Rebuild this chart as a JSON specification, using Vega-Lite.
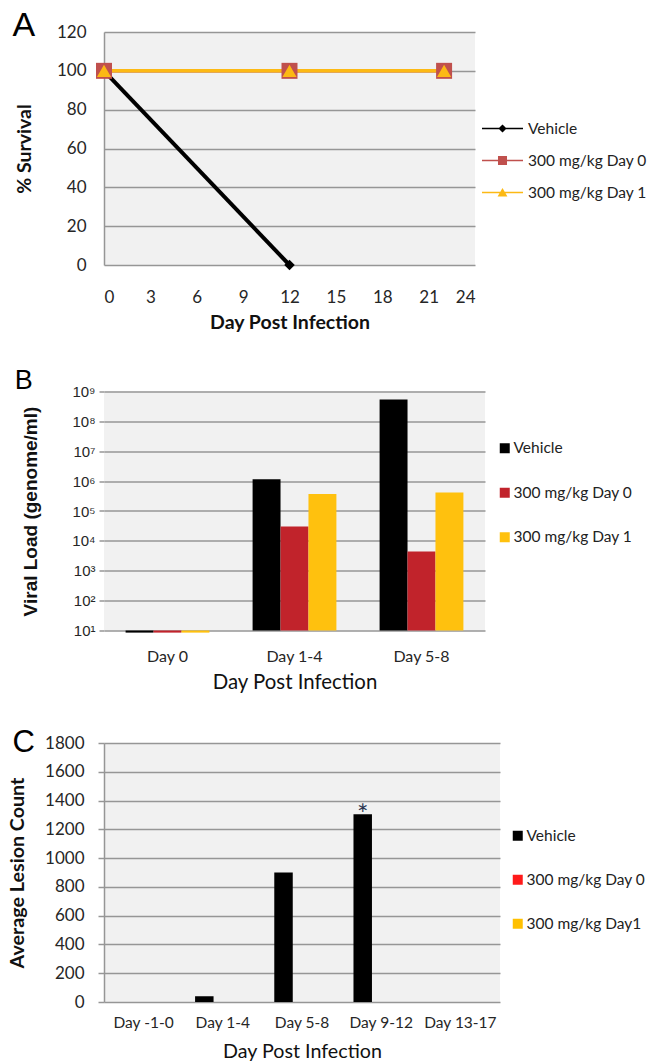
{
  "$schema": "https://vega.github.io/schema/vega-lite/v6.json",
  "padding": {"left": 7, "top": 9, "right": 0, "bottom": 0},
  "background": "white",
  "config": {
    "view": {"fill": "#f1f1f1", "stroke": null},
    "axis": {"labelFont": "Lato", "labelColor": "#262626", "titleFont": "Lato", "titleColor": "#111111", "gridColor": "#969696", "gridWidth": 1.5, "domainColor": "#969696", "domainWidth": 1.5, "tickColor": "#969696", "tickWidth": 1.5},
    "legend": {"labelFont": "Lato", "labelFontSize": 15.5, "labelColor": "#222222", "padding": 0},
    "title": {"font": "Liberation Sans", "fontWeight": "normal", "anchor": "start", "frame": "bounds", "color": "#000000"},
    "concat": {"spacing": 34.5}
  },
  "resolve": {"scale": {"color": "independent", "shape": "independent", "x": "independent", "y": "independent", "xOffset": "independent"}},
  "vconcat": [
    {
      "title": {"text": "A", "fontSize": 34, "offset": -20, "dx": -2},
      "width": 371,
      "height": 233,
      "data": {"values": [
        {"series": "Vehicle", "day": 0, "survival": 100},
        {"series": "Vehicle", "day": 12, "survival": 0},
        {"series": "300 mg/kg Day 0", "day": 0, "survival": 100},
        {"series": "300 mg/kg Day 0", "day": 12, "survival": 100},
        {"series": "300 mg/kg Day 0", "day": 22, "survival": 100},
        {"series": "300 mg/kg Day 1", "day": 0, "survival": 100},
        {"series": "300 mg/kg Day 1", "day": 12, "survival": 100},
        {"series": "300 mg/kg Day 1", "day": 22, "survival": 100}
      ]},
      "encoding": {
        "x": {"field": "day", "type": "quantitative", "scale": {"domain": [0, 24], "nice": false},
          "axis": {"values": [0, 3, 6, 9, 12, 15, 18, 21, 24], "grid": false, "domain": false, "ticks": false, "labelFontSize": 17, "labelPadding": 24, "title": "Day Post Infection", "titleFontSize": 19.5, "titleFontWeight": "bold", "titlePadding": 8}},
        "y": {"field": "survival", "type": "quantitative", "scale": {"domain": [0, 120], "nice": false},
          "axis": {"values": [0, 20, 40, 60, 80, 100, 120], "ticks": false, "domain": true, "labelFontSize": 17, "labelPadding": 18, "title": "% Survival", "titleFontSize": 19.5, "titleFontWeight": "bold", "titlePadding": 22}}
      },
      "layer": [
        {"transform": [{"filter": "datum.series === 'Vehicle'"}], "mark": {"type": "line", "color": "#000000", "strokeWidth": 4}, "encoding": {}},
        {"transform": [{"filter": "datum.series === '300 mg/kg Day 0'"}], "mark": {"type": "line", "color": "#c0504d", "strokeWidth": 3.5}, "encoding": {}},
        {"transform": [{"filter": "datum.series === '300 mg/kg Day 1'"}], "mark": {"type": "line", "color": "#fcb914", "strokeWidth": 3.5}, "encoding": {}},
        {"transform": [{"filter": "datum.series === 'Vehicle'"}], "mark": {"type": "point", "shape": "diamond", "size": 110, "filled": true, "color": "#000000", "opacity": 1}},
        {"transform": [{"filter": "datum.series === '300 mg/kg Day 0'"}], "mark": {"type": "point", "shape": "square", "size": 256, "filled": true, "color": "#c0504d", "opacity": 1}},
        {"transform": [{"filter": "datum.series === '300 mg/kg Day 1'"}], "mark": {"type": "point", "shape": "triangle-up", "size": 200, "filled": true, "color": "#fcb914", "opacity": 1}},
        {"transform": [{"filter": "false"}],
          "mark": {"type": "point", "filled": true, "opacity": 1},
          "encoding": {
            "color": {"field": "series", "type": "nominal",
              "scale": {"domain": ["Vehicle", "300 mg/kg Day 0", "300 mg/kg Day 1"], "range": ["#000000", "#c0504d", "#fcb914"]},
              "legend": {"title": null, "orient": "none", "legendX": 378, "legendY": 76, "symbolSize": 1681, "symbolOpacity": 1, "symbolStrokeWidth": 0, "rowPadding": 3, "labelOffset": 5}},
            "shape": {"field": "series", "type": "nominal",
              "scale": {"domain": ["Vehicle", "300 mg/kg Day 0", "300 mg/kg Day 1"], "range": ["M-1,-0.04H1V0.04H-1ZM0,-0.2L0.2,0L0,0.2L-0.2,0Z", "M-1,-0.04H1V0.04H-1ZM-0.22,-0.22H0.22V0.22H-0.22Z", "M-1,-0.04H1V0.04H-1ZM0,-0.22L0.24,0.2H-0.24Z"]}}
          }}
      ]
    },
    {
      "title": {"text": "B", "fontSize": 27, "offset": -10, "dx": -7},
      "width": 381,
      "height": 239,
      "data": {"values": [
        {"day": "Day 0", "group": "Vehicle", "load": 8.5},
        {"day": "Day 0", "group": "300 mg/kg Day 0", "load": 8.5},
        {"day": "Day 0", "group": "300 mg/kg Day 1", "load": 8.5},
        {"day": "Day 1-4", "group": "Vehicle", "load": 1150000},
        {"day": "Day 1-4", "group": "300 mg/kg Day 0", "load": 30000},
        {"day": "Day 1-4", "group": "300 mg/kg Day 1", "load": 370000},
        {"day": "Day 5-8", "group": "Vehicle", "load": 540000000},
        {"day": "Day 5-8", "group": "300 mg/kg Day 0", "load": 4400},
        {"day": "Day 5-8", "group": "300 mg/kg Day 1", "load": 420000}
      ]},
      "mark": {"type": "bar"},
      "encoding": {
        "x": {"field": "day", "type": "nominal", "sort": ["Day 0", "Day 1-4", "Day 5-8"], "scale": {"paddingInner": 0.34, "paddingOuter": 0.17},
          "axis": {"labelAngle": 0, "ticks": false, "domain": false, "labelFontSize": 16, "labelPadding": 18, "title": "Day Post Infection", "titleFontSize": 20.4, "titleFontWeight": "normal", "titlePadding": 7.5}},
        "xOffset": {"field": "group", "type": "nominal", "sort": ["Vehicle", "300 mg/kg Day 0", "300 mg/kg Day 1"], "scale": {"paddingInner": 0, "paddingOuter": 0}},
        "y": {"field": "load", "type": "quantitative", "scale": {"type": "log", "domain": [10, 1000000000], "nice": false},
          "axis": {"values": [10, 100, 1000, 10000, 100000, 1000000, 10000000, 100000000, 1000000000],
            "labelExpr": "'10' + ['⁰','¹','²','³','⁴','⁵','⁶','⁷','⁸','⁹'][round(log(datum.value)/LN10)]",
            "labelFont": "Liberation Sans", "labelFontSize": 15, "tickSize": 5, "domain": false, "labelPadding": 4,
            "title": "Viral Load (genome/ml)", "titleFont": "Liberation Sans", "titleFontSize": 19, "titleFontWeight": "bold", "titlePadding": 31}},
        "y2": {"datum": 10},
        "color": {"field": "group", "type": "nominal",
          "scale": {"domain": ["Vehicle", "300 mg/kg Day 0", "300 mg/kg Day 1"], "range": ["#000000", "#c1232b", "#ffc10e"]},
          "legend": {"title": null, "orient": "none", "legendX": 393, "legendY": 49, "symbolType": "square", "symbolSize": 100, "symbolStrokeWidth": 0, "rowPadding": 27.5, "labelOffset": 1}}
      }
    },
    {
      "title": {"text": "C", "fontSize": 31, "offset": -25, "dx": 5},
      "width": 396,
      "height": 259,
      "data": {"values": [
        {"day": "Day -1-0", "group": "Vehicle", "count": 0, "note": ""},
        {"day": "Day -1-0", "group": "300 mg/kg Day 0", "count": 0, "note": ""},
        {"day": "Day -1-0", "group": "300 mg/kg Day1", "count": 0, "note": ""},
        {"day": "Day 1-4", "group": "Vehicle", "count": 40, "note": ""},
        {"day": "Day 1-4", "group": "300 mg/kg Day 0", "count": 0, "note": ""},
        {"day": "Day 1-4", "group": "300 mg/kg Day1", "count": 0, "note": ""},
        {"day": "Day 5-8", "group": "Vehicle", "count": 900, "note": ""},
        {"day": "Day 5-8", "group": "300 mg/kg Day 0", "count": 0, "note": ""},
        {"day": "Day 5-8", "group": "300 mg/kg Day1", "count": 0, "note": ""},
        {"day": "Day 9-12", "group": "Vehicle", "count": 1305, "note": "*"},
        {"day": "Day 9-12", "group": "300 mg/kg Day 0", "count": 0, "note": ""},
        {"day": "Day 9-12", "group": "300 mg/kg Day1", "count": 0, "note": ""},
        {"day": "Day 13-17", "group": "Vehicle", "count": 0, "note": ""},
        {"day": "Day 13-17", "group": "300 mg/kg Day 0", "count": 0, "note": ""},
        {"day": "Day 13-17", "group": "300 mg/kg Day1", "count": 0, "note": ""}
      ]},
      "encoding": {
        "x": {"field": "day", "type": "nominal", "sort": ["Day -1-0", "Day 1-4", "Day 5-8", "Day 9-12", "Day 13-17"], "scale": {"paddingInner": 0.3, "paddingOuter": 0.15},
          "axis": {"labelAngle": 0, "ticks": false, "domain": false, "labelFontSize": 15.5, "labelPadding": 13, "title": "Day Post Infection", "titleFontSize": 19.7, "titleFontWeight": "normal", "titlePadding": 11}},
        "xOffset": {"field": "group", "type": "nominal", "sort": ["Vehicle", "300 mg/kg Day 0", "300 mg/kg Day1"], "scale": {"paddingInner": 0, "paddingOuter": 0}},
        "y": {"field": "count", "type": "quantitative", "scale": {"domain": [0, 1800], "nice": false},
          "axis": {"values": [0, 200, 400, 600, 800, 1000, 1200, 1400, 1600, 1800], "format": "d", "labelFontSize": 17, "tickSize": 6, "domain": true, "labelPadding": 14,
            "title": "Average Lesion Count", "titleFontSize": 19.7, "titleFontWeight": "bold", "titlePadding": 17}},
        "color": {"field": "group", "type": "nominal",
          "scale": {"domain": ["Vehicle", "300 mg/kg Day 0", "300 mg/kg Day1"], "range": ["#000000", "#ff1a1a", "#ffc000"]},
          "legend": {"title": null, "orient": "none", "legendX": 406, "legendY": 85, "symbolType": "square", "symbolSize": 100, "symbolStrokeWidth": 0, "rowPadding": 27, "labelOffset": 1}}
      },
      "layer": [
        {"mark": {"type": "bar"}},
        {"mark": {"type": "text", "baseline": "alphabetic", "dy": 10, "fontSize": 27, "font": "Lato"},
          "encoding": {"text": {"field": "note"}, "color": {"value": "#2b3550"}}}
      ]
    }
  ]
}
